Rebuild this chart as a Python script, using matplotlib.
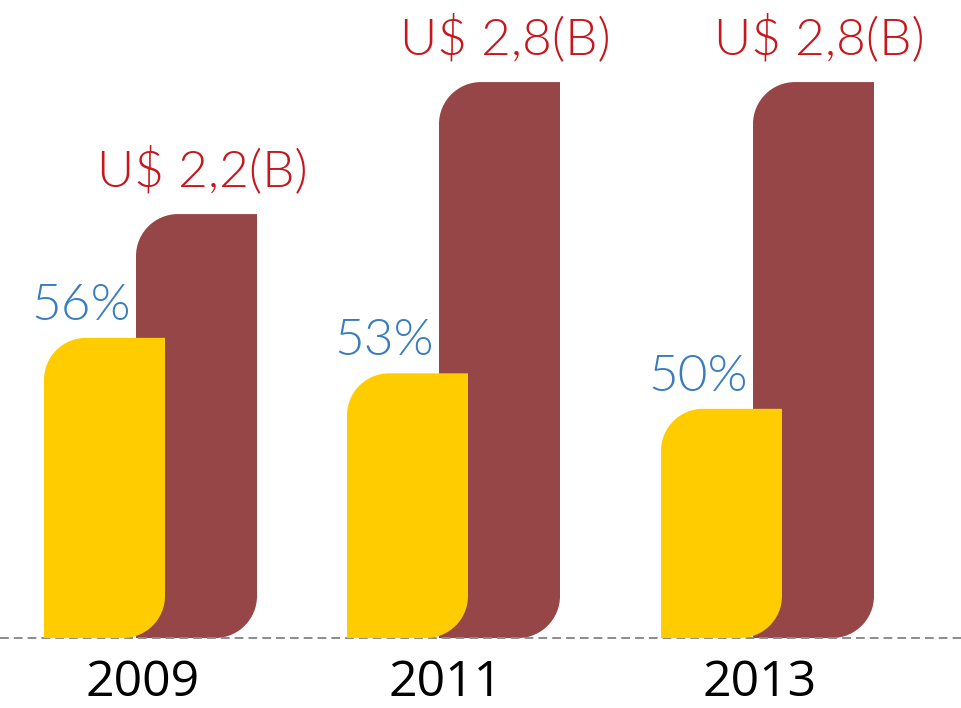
import matplotlib
matplotlib.use("Agg")
import matplotlib.pyplot as plt
from matplotlib.path import Path
from matplotlib.patches import PathPatch

# data
years = ["2009", "2011", "2013"]
share_pct = [56, 53, 50]
revenue_b = [2.2, 2.8, 2.8]
share_labels = ["56%", "53%", "50%"]
revenue_labels = ["U$ 2,2(B)", "U$ 2,8(B)", "U$ 2,8(B)"]

YELLOW = "#FFCC00"
MAROON = "#974647"
BLUE = "#3A7DBF"
RED = "#C8161D"

# layout (pixels, figure is 961x708 at dpi 100)
group_left = [44, 347, 661]
bar_w = 121
red_offset = 92
radius = 42

# bars start from the axis floor of each scale
red_floor, red_ylim = 0.273, (-0.045, 3.173)
share_floor, share_ylim = 30.63, (24.71, 84.56)

LIGHT = ["Lato", "Open Sans", "DejaVu Sans"]
REGULAR = ["Open Sans", "DejaVu Sans"]


def rounded_bar(ax, x0, width, y0, y1, r, color):
    """Bar with the top-left and bottom-right corners rounded (r in pixels)."""
    xl, yl = ax.get_xlim(), ax.get_ylim()
    rx = r * (xl[1] - xl[0]) / ax.bbox.width
    ry = r * (yl[1] - yl[0]) / ax.bbox.height
    k = 0.5523
    x1 = x0 + width
    verts = [
        (x0, y0),
        (x1 - rx, y0),
        (x1 - rx + k * rx, y0), (x1, y0 + ry - k * ry), (x1, y0 + ry),
        (x1, y1),
        (x0 + rx, y1),
        (x0 + rx - k * rx, y1), (x0, y1 - ry + k * ry), (x0, y1 - ry),
        (x0, y0),
    ]
    codes = [Path.MOVETO, Path.LINETO, Path.CURVE4, Path.CURVE4, Path.CURVE4,
             Path.LINETO, Path.LINETO, Path.CURVE4, Path.CURVE4, Path.CURVE4,
             Path.CLOSEPOLY]
    ax.add_patch(PathPatch(Path(verts, codes), facecolor=color, edgecolor="none"))


fig = plt.figure(figsize=(9.61, 7.08), dpi=100)
ax_red = fig.add_axes([0, 0, 1, 1])
ax_share = fig.add_axes([0, 0, 1, 1])
for ax in (ax_red, ax_share):
    ax.set_xlim(0, 961)
    ax.axis("off")
    ax.patch.set_alpha(0)
ax_red.set_ylim(*red_ylim)
ax_share.set_ylim(*share_ylim)

# baseline
ax_red.axhline(red_floor, color="#8C8C8C", lw=1.4, linestyle=(0, (4.5, 2.6)), zorder=5)

for i in range(len(years)):
    xl = group_left[i]
    xr = xl + red_offset
    rounded_bar(ax_red, xr, bar_w, red_floor, revenue_b[i], radius, MAROON)
    rounded_bar(ax_share, xl, bar_w, share_floor, share_pct[i], radius, YELLOW)

    ax_red.annotate(revenue_labels[i], (xr + bar_w / 2 + 6, revenue_b[i]),
                    xytext=(0, 43 * 0.72), textcoords="offset points",
                    ha="center", va="center", color=RED, fontsize=37,
                    family=LIGHT, fontweight=300)
    ax_share.annotate(share_labels[i], (xl + 37, share_pct[i]),
                      xytext=(0, 32 * 0.72), textcoords="offset points",
                      ha="center", va="center", color=BLUE, fontsize=37,
                      family=LIGHT, fontweight=300)
    ax_red.annotate(years[i], (xl + 99, red_floor),
                    xytext=(0, -45 * 0.72), textcoords="offset points",
                    ha="center", va="center", color="black", fontsize=36,
                    family=REGULAR)

fig.savefig("out.png", dpi=100)
